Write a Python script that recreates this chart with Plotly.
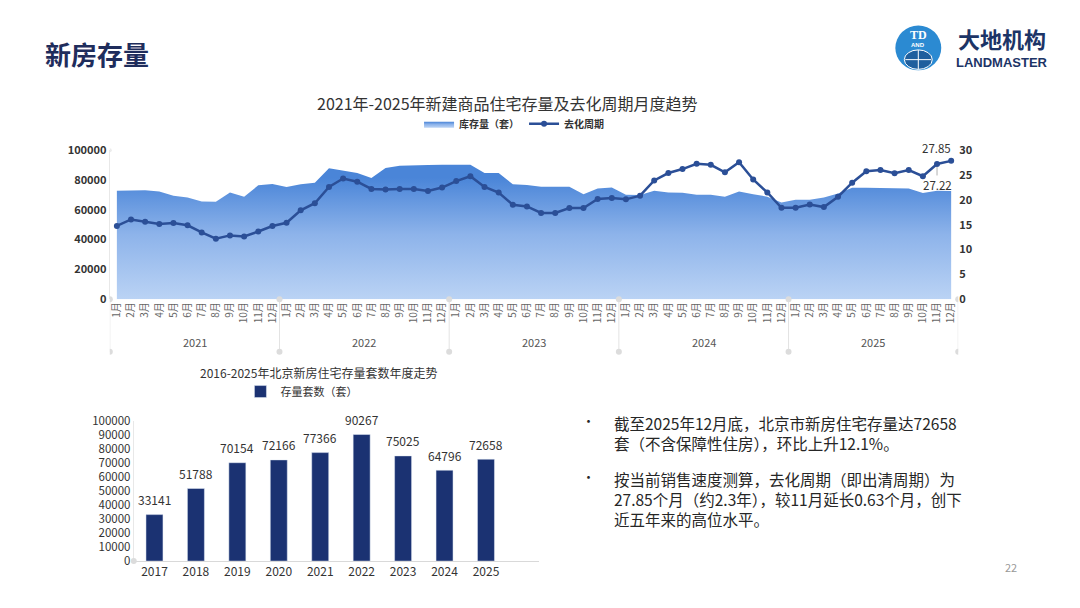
import plotly.graph_objects as go

W, H = 1080, 608


def px(x):
    return x / W


def py(y):
    return 1 - y / H


FONT = "Noto Sans CJK SC"

# ---------------- data ----------------
years_top = ["2021", "2022", "2023", "2024", "2025"]
months = [f"{m}月" for m in range(1, 13)]

stock_2021 = [72700, 72700, 73100, 72300, 69400, 68300, 65500, 65300, 71600, 68800, 76400, 77366]
stock_2022 = [75300, 77100, 78200, 87800, 86500, 84700, 81400, 88000, 89500, 89500, 90000, 90267]
stock_2023 = [90200, 90200, 84700, 84700, 77100, 76600, 75500, 75500, 75500, 70500, 74200, 75025]
stock_2024 = [70100, 69900, 72700, 71600, 71400, 70100, 70100, 68800, 72300, 70500, 68800, 64796]
stock_2025 = [66800, 66800, 68300, 71000, 74800, 74800, 74800, 74800, 74300, 71200, 72700, 72658]

cycle_2021 = [14.74, 16.05, 15.59, 15.13, 15.33, 14.87, 13.43, 12.18, 12.84, 12.64, 13.62, 14.74]
cycle_2022 = [15.39, 17.88, 19.32, 22.60, 24.30, 23.65, 22.20, 22.07, 22.20, 22.20, 21.80, 22.47]
cycle_2023 = [23.78, 24.76, 22.60, 21.48, 19.00, 18.67, 17.36, 17.36, 18.34, 18.34, 20.17, 20.37]
cycle_2024 = [20.10, 20.83, 23.90, 25.40, 26.20, 27.25, 27.05, 25.55, 27.58, 24.10, 21.48, 18.40]
cycle_2025 = [18.40, 19.06, 18.54, 20.63, 23.45, 25.74, 26.00, 25.35, 26.00, 24.76, 27.22, 27.85]

bar_years = ["2017", "2018", "2019", "2020", "2021", "2022", "2023", "2024", "2025"]
bar_values = [33141, 51788, 70154, 72166, 77366, 90267, 75025, 64796, 72658]

stock = stock_2021 + stock_2022 + stock_2023 + stock_2024 + stock_2025
cycle = cycle_2021 + cycle_2022 + cycle_2023 + cycle_2024 + cycle_2025
month_ticks = months * len(years_top)
xi = list(range(len(stock)))
n_months = len(months)
bi = list(range(len(bar_years)))

# ---------------- traces ----------------
fig = go.Figure()
fig.add_trace(go.Scatter(
    x=xi, y=stock, name="库存量（套）", mode="lines",
    line=dict(width=0, color="#8db4ea"),
    fill="tozeroy",
    fillgradient=dict(type="vertical", start=0, stop=82000,
                      colorscale=[[0, "#bdd5f5"], [0.55, "#8db3ea"], [1, "#4a85d8"]]),
    xaxis="x", yaxis="y", legend="legend", hoverinfo="skip",
))
fig.add_trace(go.Scatter(
    x=xi, y=cycle, name="去化周期", mode="lines+markers",
    line=dict(color="#2b4f97", width=2.5),
    marker=dict(size=6, color="#2b4f97"),
    xaxis="x", yaxis="y2", legend="legend",
))
fig.add_trace(go.Bar(
    x=bi, y=bar_values, name="存量套数（套）",
    marker=dict(color="#1b3272"), width=0.41,
    xaxis="x2", yaxis="y3", legend="legend2",
))

# ---------------- annotations ----------------
ann = []
ann.append(dict(text="<b>新房存量</b>", x=px(41), y=py(46), xref="paper", yref="paper",
                xanchor="left", yanchor="middle", showarrow=False,
                font=dict(family=FONT, size=26, color="#1f2d5c")))
ann.append(dict(text="<b>大地机构</b>", x=px(1002), y=py(30), xref="paper", yref="paper",
                xanchor="center", yanchor="middle", showarrow=False,
                font=dict(family=FONT, size=22, color="#1c3466")))
ann.append(dict(text="<b>LANDMASTER</b>", x=px(1002), y=py(55), xref="paper", yref="paper",
                xanchor="center", yanchor="middle", showarrow=False,
                font=dict(family="Liberation Sans", size=13, color="#1c3466")))
ann.append(dict(text="<b>TD</b>", x=px(918), y=py(27), xref="paper", yref="paper",
                xanchor="center", yanchor="middle", showarrow=False,
                font=dict(family="Liberation Serif", size=12, color="white")))
ann.append(dict(text="<b>AND</b>", x=px(918), y=py(37), xref="paper", yref="paper",
                xanchor="center", yanchor="middle", showarrow=False,
                font=dict(family="Liberation Sans", size=6, color="white")))

ann.append(dict(text="2021年-2025年新建商品住宅存量及去化周期月度趋势", x=px(506), y=py(97),
                xref="paper", yref="paper", xanchor="center", yanchor="middle", showarrow=False,
                font=dict(family=FONT, size=16, color="#333333")))

for k, yr in enumerate(years_top):
    ann.append(dict(text=yr, x=k * n_months + (n_months - 1) / 2, y=py(342), xref="x", yref="paper",
                    xanchor="center", yanchor="middle", showarrow=False,
                    font=dict(family=FONT, size=11, color="#555555")))

ann.append(dict(text=f"{cycle[-1]:.2f}", x=xi[-1], y=cycle[-1], xref="x", yref="y2",
                xanchor="center", yanchor="bottom", xshift=-15, yshift=3, showarrow=False,
                font=dict(family=FONT, size=11.5, color="#333333")))
ann.append(dict(text=f"{cycle[-2]:.2f}", x=xi[-2], y=cycle[-2], xref="x", yref="y2",
                showarrow=True, arrowhead=0, arrowwidth=1, arrowcolor="#b0b0b0",
                ax=0, ay=21, standoff=3,
                font=dict(family=FONT, size=11.5, color="#333333")))

ann.append(dict(text="2016-2025年北京新房住宅存量套数年度走势", x=px(317), y=py(373),
                xref="paper", yref="paper", xanchor="center", yanchor="middle", showarrow=False,
                font=dict(family=FONT, size=12, color="#333333")))

for i, v in zip(bi, bar_values):
    ann.append(dict(text=str(v), x=i, y=v, xref="x2", yref="y3", xanchor="center",
                    yanchor="middle", yshift=15, showarrow=False,
                    font=dict(family=FONT, size=12, color="#333333")))

bullet1 = "截至2025年12月底，北京市新房住宅存量达72658<br>套（不含保障性住房），环比上升12.1%。"
bullet2 = "按当前销售速度测算，去化周期（即出清周期）为<br>27.85个月（约2.3年），较11月延长0.63个月，创下<br>近五年来的高位水平。"
for txt, ytop in [(bullet1, 412), (bullet2, 469)]:
    ann.append(dict(text="•", x=px(588), y=py(ytop + 11), xref="paper", yref="paper",
                    xanchor="center", yanchor="middle", showarrow=False,
                    font=dict(family=FONT, size=13, color="#262626")))
    ann.append(dict(text=txt, x=px(611), y=py(ytop), xref="paper", yref="paper",
                    xanchor="left", yanchor="top", align="left", showarrow=False,
                    font=dict(family=FONT, size=15.5, color="#262626")))

ann.append(dict(text="22", x=px(1011), y=py(573), xref="paper", yref="paper",
                xanchor="center", yanchor="middle", showarrow=False,
                font=dict(family=FONT, size=11, color="#999999")))

# ---------------- shapes ----------------
shapes = []
# logo circle
shapes.append(dict(type="circle", xref="paper", yref="paper",
                   x0=px(895), x1=px(941), y0=py(63), y1=py(17),
                   fillcolor="#2b8ad2", line=dict(width=0)))
shapes.append(dict(type="circle", xref="paper", yref="paper",
                   x0=px(904), x1=px(932), y0=py(62), y1=py(42),
                   fillcolor="#1f5f9e", line=dict(color="white", width=1)))
shapes.append(dict(type="line", xref="paper", yref="paper",
                   x0=px(918), x1=px(918), y0=py(62), y1=py(42), line=dict(color="white", width=1)))
shapes.append(dict(type="line", xref="paper", yref="paper",
                   x0=px(905), x1=px(931), y0=py(52), y1=py(52), line=dict(color="white", width=1)))

# year separators under top chart
for k in range(len(years_top) + 1):
    xb = k * n_months - 0.5
    shapes.append(dict(type="line", xref="x", yref="paper", x0=xb, x1=xb,
                       y0=py(298), y1=py(352), line=dict(color="#e3e3e3", width=1)))
    for yy in (298, 352):
        shapes.append(dict(type="circle", xref="x", yref="paper", xsizemode="pixel",
                           ysizemode="pixel", xanchor=xb, yanchor=py(yy),
                           x0=-3, x1=3, y0=-3, y1=3,
                           fillcolor="#dcdcdc", line=dict(width=0)))
# small dot at top of left axis
shapes.append(dict(type="circle", xref="x", yref="paper", xsizemode="pixel",
                   ysizemode="pixel", xanchor=-0.5, yanchor=py(145),
                   x0=-2, x1=2, y0=-2, y1=2, fillcolor="#ececec", line=dict(width=0)))
# dot at bar chart origin
shapes.append(dict(type="circle", xref="paper", yref="paper", xsizemode="pixel",
                   ysizemode="pixel", xanchor=px(132), yanchor=py(567),
                   x0=-3, x1=3, y0=-3, y1=3, fillcolor="#dcdcdc", line=dict(width=0)))

tick_bold = dict(family=FONT, size=11, color="#333333", weight="bold")

fig.update_layout(
    width=W, height=H,
    margin=dict(l=0, r=0, t=0, b=0),
    paper_bgcolor="white", plot_bgcolor="rgba(0,0,0,0)",
    font=dict(family=FONT, color="#333333"),
    showlegend=True,
    xaxis=dict(domain=[px(108), px(958)], range=[-0.5, len(xi) - 0.5], anchor="y",
               tickmode="array", tickvals=xi, ticktext=month_ticks, tickangle=-90,
               tickfont=dict(family=FONT, size=10, color="#666666"),
               showgrid=False, zeroline=False, showline=False, ticks=""),
    yaxis=dict(domain=[py(298), py(145)], range=[0, 100000], dtick=20000, anchor="x",
               showgrid=False, zeroline=False, showline=True, linecolor="#e8e8e8",
               tickformat="d", tickfont=tick_bold, ticks=""),
    yaxis2=dict(overlaying="y", side="right", anchor="x", range=[0, 30], dtick=5,
                showgrid=False, zeroline=False, showline=False, tickfont=tick_bold, ticks=""),
    xaxis2=dict(domain=[px(132), px(538)], anchor="y3",
                range=[-0.5, 9.28], showline=True, linecolor="#d9d9d9",
                tickmode="array", tickvals=bi, ticktext=bar_years,
                showgrid=False, zeroline=False, ticks="",
                tickfont=dict(family=FONT, size=12, color="#333333")),
    yaxis3=dict(domain=[py(567), py(423)], anchor="x2", range=[0, 100000], dtick=10000,
                showgrid=False, zeroline=False, showline=True, linecolor="#e8e8e8",
                tickformat="d", ticks="",
                tickfont=dict(family=FONT, size=11.5, color="#333333")),
    legend=dict(orientation="h", x=px(513), xanchor="center", y=py(103), yanchor="top",
                font=dict(family=FONT, size=10, color="#333333", weight="bold"),
                bgcolor="rgba(0,0,0,0)", itemwidth=30),
    legend2=dict(orientation="h", x=px(300), xanchor="center", y=py(378), yanchor="top",
                 font=dict(family=FONT, size=11, color="#333333"),
                 bgcolor="rgba(0,0,0,0)", itemwidth=30),
    annotations=ann,
    shapes=shapes,
)

fig.write_html("out.html")
